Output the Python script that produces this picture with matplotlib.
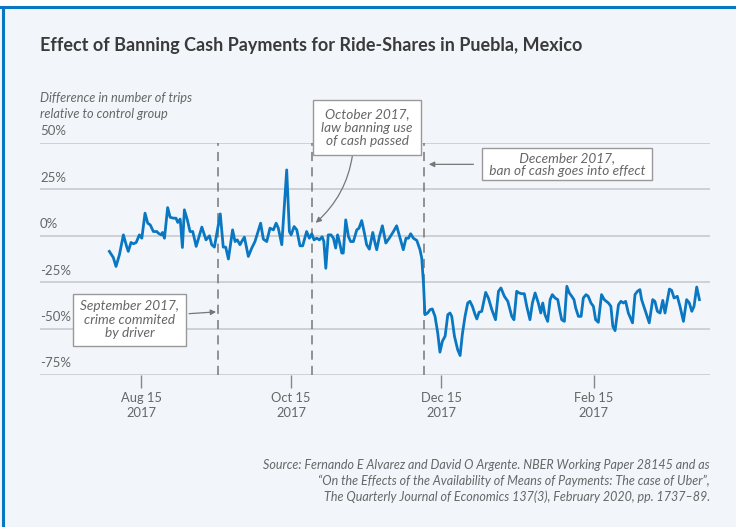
import matplotlib
matplotlib.use("Agg")
import matplotlib.pyplot as plt
from matplotlib.patches import Rectangle

plt.rcParams['font.family'] = ['Lato', 'DejaVu Sans']

# days since Aug 15 2017, and difference in trips (%)
days = [-12.9, -11.3, -10.2, -8.8, -7.2, -5.8, -5.2, -4.1, -3.1, -2.0, -0.7, 0.3,
        1.6, 2.7, 3.7, 5.0, 6.4, 7.0, 8.2, 8.7, 9.5, 10.8, 11.8, 13.1, 14.2, 14.9,
        15.9, 16.8, 17.6, 18.8, 19.9, 21.0, 22.4, 24.7, 26.4, 27.8, 28.7, 29.8,
        32.2, 33.4, 34.4, 35.5, 37.2, 38.2, 39.1, 40.2, 40.9, 42.0, 43.6, 45.0,
        46.3, 48.6, 49.7, 51.1, 52.4, 53.8, 54.9, 55.8, 57.2, 59.2, 60.3, 61.0,
        62.2, 63.3, 64.6, 65.7, 67.3, 68.4, 69.4, 70.3, 71.4, 72.5, 73.6, 74.3,
        75.1, 76.1, 77.2, 78.2, 79.1, 79.9, 80.6, 81.6, 82.2, 83.2, 84.3, 85.2,
        86.3, 87.7, 88.6, 89.7, 90.8, 91.7, 92.8, 94.2, 95.1, 95.8, 96.9, 98.1,
        99.5, 100.9, 102.6, 103.9, 105.3, 106.6, 107.7, 108.7, 109.6, 110.7,
        112.1, 113.4, 114.1, 114.8, 115.4, 116.5, 117.5, 118.4, 119.5, 120.6,
        121.5, 122.5, 123.6, 124.7, 125.6, 126.3, 127.4, 128.7, 129.7, 130.6,
        131.7, 132.8, 133.7, 134.7, 135.8, 136.5, 137.4, 138.5, 140.1, 141.2,
        142.6, 144.1, 145.3, 146.3, 147.7, 149.1, 150.7, 151.6, 152.7, 153.7,
        154.7, 155.8, 156.8, 158.1, 159.1, 160.2, 161.5, 162.5, 163.3, 164.2,
        165.3, 166.3, 167.2, 168.3, 169.4, 170.3, 171.0, 172.1, 173.1, 174.1,
        175.1, 176.0, 176.7, 177.8, 178.9, 179.8, 180.9, 181.8, 182.9, 183.9,
        184.8, 185.9, 187.2, 188.3, 190.0, 191.0, 191.8, 192.7, 194.1, 195.1,
        196.1, 197.0, 198.1, 199.8, 200.8, 201.8, 202.8, 203.5, 205.3, 206.6,
        208.0, 208.9, 209.9, 211.0, 212.1, 213.0, 214.8, 215.7, 216.7, 218.0,
        219.1, 220.5, 221.8, 222.9, 223.9, 224.8, 225.9, 227.0]
diff = [-8.4, -11.7, -16.5, -10.2, 0.5, -6.1, -8.4, -3.6, -4.3, -3.6, 0.5, -1.3,
        12.2, 6.8, 5.9, 2.3, 2.3, 1.4, 0.5, 1.8, -1.3, 15.2, 10.0, 9.5, 9.5, 7.2,
        9.0, -6.3, 14.0, 8.6, 2.3, 2.3, -5.7, 4.7, -2.2, 0.0, -4.8, -6.1,
        11.8, -6.1, -6.1, -12.5, 3.2, -3.1, -2.2, -4.8, -3.1, -0.7, -11.1, -6.6,
        -3.1, 6.8, -1.8, -3.1, 4.1, 3.2, 6.8, 4.1, -4.8, 35.5, 2.3, 0.5,
        5.0, 3.2, -5.4, -5.4, 2.3, -1.3, 1.1, -2.2, -1.3, -2.2, -0.5, -3.0,
        -17.5, 0.5, 0.5, -1.3, -6.6, 0.5, -3.1, -9.3, -9.3, 8.6, -0.4, -3.1,
        -3.1, 3.2, 4.1, 8.2, 1.4, -4.8, -7.2, 1.8, -3.9, -7.5, -0.4, 5.4,
        -3.9, -1.3, 2.3, 5.4, -1.3, -7.5, -1.3, -1.3, 1.1, -1.3,
        -2.5, -7.5, -12.0, -25.4, -42.5, -41.6, -39.8, -39.4, -43.4, -52.3,
        -62.7, -56.8, -54.1, -42.5, -41.6, -43.4, -54.1, -61.3, -64.5, -53.2,
        -43.4, -36.2, -35.3, -38.0, -42.5, -44.8, -41.2, -40.7, -30.5, -33.5,
        -39.8, -45.2, -29.9, -28.1, -32.6, -35.3, -43.4, -45.2, -29.9, -30.8,
        -31.2, -31.2, -38.0, -45.2, -36.2, -30.8, -36.2, -41.6, -36.2, -42.5,
        -46.1, -34.4, -31.7, -33.5, -34.4, -40.7, -45.2, -46.1, -27.2, -30.8,
        -32.6, -34.4, -38.9, -43.4, -43.4, -33.5, -31.7, -32.6, -36.2, -38.0,
        -45.2, -46.6, -31.7, -34.4, -36.2, -38.0, -48.8, -51.1, -37.1, -35.3,
        -36.2, -35.3, -41.6, -46.9, -31.7, -29.9, -29.0, -34.4, -41.6, -46.9,
        -34.4, -35.3, -40.7, -41.6, -34.8, -41.6, -28.7, -29.4, -33.5, -32.6,
        -38.0, -46.1, -34.4, -36.2, -40.7, -38.0, -27.6, -34.4]

xtick_days = [0, 61, 122, 184]
xtick_labels = ['Aug 15\n2017', 'Oct 15\n2017', 'Dec 15\n2017', 'Feb 15\n2017']
ytick_vals = [50, 25, 0, -25, -50, -75]
ytick_labels = ['50%', '25%', '0%', '-25%', '-50%', '-75%']
event_days = [31.3, 69.5, 115.0]

W, H = 736, 527
bg = '#f2f6fa'
grey = '#666666'
blue = '#0a77c2'

fig = plt.figure(figsize=(W / 100, H / 100), dpi=100, facecolor=bg)
ax = fig.add_axes([40 / W, 1 - 375 / H, 670 / W, 232 / H])
ax.set_facecolor(bg)

ax.set_xlim(-41.1, 231.3)
ax.set_ylim(-75, 50)
for v in ytick_vals:
    ax.axhline(v, color='#c4c7ca', lw=1.1, zorder=1)
for s in ax.spines.values():
    s.set_visible(False)
ax.set_yticks([])
ax.set_xticks(xtick_days)
ax.set_xticklabels(xtick_labels, fontsize=9.3, color=grey, linespacing=1.3)
ax.tick_params(axis='x', length=9, width=1, color='#888888', pad=3)

for v, lab in zip(ytick_vals, ytick_labels):
    ax.annotate(lab, xy=(0, v), xycoords=('axes fraction', 'data'),
                xytext=(0, 4), textcoords='offset points',
                ha='left', va='bottom', fontsize=9.5, color=grey)

for d in event_days:
    ax.axvline(d, color='#777777', lw=1.1, dashes=(6, 4), zorder=2)

ax.plot(days, diff, color=blue, lw=2.0, zorder=4, solid_joinstyle='round')

fkw = dict(fontsize=9.8, color=grey, style='italic', ha='center', va='center',
           linespacing=1.12)
arrow = dict(arrowstyle='-|>', color='#777777', lw=0.9, mutation_scale=8)

ax.annotate('September 2017,\ncrime commited\nby driver',
            xy=(event_days[0] - 0.8, -41), xytext=(-4.7, -45.2), textcoords='data',
            bbox=dict(boxstyle='square,pad=0.5', fc='white', ec='#999999', lw=1),
            **fkw, arrowprops=dict(**arrow, shrinkA=2, shrinkB=0, relpos=(1.0, 0.64)))
ax.annotate('October 2017,\nlaw banning use\nof cash passed',
            xy=(event_days[1] + 1.5, 7), xytext=(91.9, 58.3), textcoords='data',
            bbox=dict(boxstyle='square,pad=0.6', fc='white', ec='#999999', lw=1),
            **fkw, annotation_clip=False,
            arrowprops=dict(**arrow, shrinkA=0, shrinkB=0,
                            connectionstyle='arc3,rad=-0.2', relpos=(0.35, 0.0)))
ax.annotate(' December 2017, \n ban of cash goes into effect ',
            xy=(event_days[2] + 2, 38.5), xytext=(173.2, 38.5), textcoords='data',
            bbox=dict(boxstyle='square,pad=0.25', fc='white', ec='#999999', lw=1),
            **fkw,
            arrowprops=dict(**arrow, shrinkA=6, shrinkB=0, relpos=(0.0, 0.5)))

fig.text(40 / W, 1 - 46 / H,
         'Effect of Banning Cash Payments for Ride-Shares in Puebla, Mexico',
         fontsize=13, fontweight='bold', color='#3a3a3a', va='center')
fig.text(40 / W, 1 - 106 / H,
         'Difference in number of trips\nrelative to control group',
         fontsize=9.2, style='italic', color=grey, va='center', linespacing=1.4)
fig.text(710 / W, 1 - 481 / H,
         'Source: Fernando E Alvarez and David O Argente. NBER Working Paper 28145 and as\n'
         '\u201cOn the Effects of the Availability of Means of Payments: The case of Uber\u201d,\n'
         'The Quarterly Journal of Economics 137(3), February 2020, pp. 1737\u201389.',
         fontsize=9.0, style='italic', color=grey, ha='right', va='center',
         linespacing=1.37)

# white strip and blue frame edges
fig.patches.append(Rectangle((0, 1 - 6 / H), 1, 6 / H, transform=fig.transFigure,
                             fc='white', ec='none', zorder=0))
fig.add_artist(plt.Line2D([0, 1], [1 - 7 / H] * 2, color=blue, lw=2.2,
                          transform=fig.transFigure))
fig.add_artist(plt.Line2D([3 / W] * 2, [0, 1 - 7 / H], color=blue, lw=2.2,
                          transform=fig.transFigure))

fig.savefig('out.png', dpi=100, facecolor=bg)
